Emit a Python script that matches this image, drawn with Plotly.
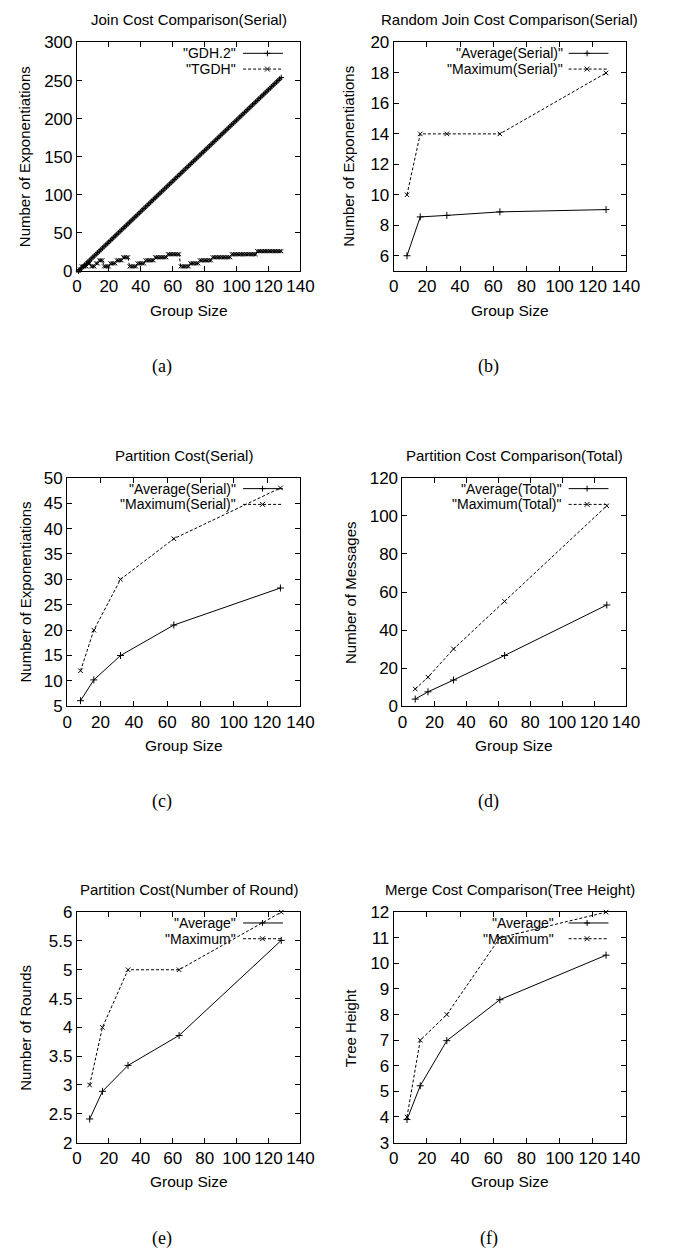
import plotly.graph_objects as go

# ---------------- data ----------------
# (a) Join cost comparison (serial), group sizes 1..128
join_group_size = [
    1, 2, 3, 4, 5, 6, 7, 8, 9, 10, 11, 12, 13, 14, 15, 16, 17, 18, 19, 20,
    21, 22, 23, 24, 25, 26, 27, 28, 29, 30, 31, 32, 33, 34, 35, 36, 37, 38, 39, 40,
    41, 42, 43, 44, 45, 46, 47, 48, 49, 50, 51, 52, 53, 54, 55, 56, 57, 58, 59, 60,
    61, 62, 63, 64, 65, 66, 67, 68, 69, 70, 71, 72, 73, 74, 75, 76, 77, 78, 79, 80,
    81, 82, 83, 84, 85, 86, 87, 88, 89, 90, 91, 92, 93, 94, 95, 96, 97, 98, 99, 100,
    101, 102, 103, 104, 105, 106, 107, 108, 109, 110, 111, 112, 113, 114, 115, 116,
    117, 118, 119, 120, 121, 122, 123, 124, 125, 126, 127, 128]
gdh2_serial = [
    0, 2, 4, 6, 8, 10, 12, 14, 16, 18, 20, 22, 24, 26, 28, 30, 32, 34, 36, 38,
    40, 42, 44, 46, 48, 50, 52, 54, 56, 58, 60, 62, 64, 66, 68, 70, 72, 74, 76, 78,
    80, 82, 84, 86, 88, 90, 92, 94, 96, 98, 100, 102, 104, 106, 108, 110, 112, 114, 116, 118,
    120, 122, 124, 126, 128, 130, 132, 134, 136, 138, 140, 142, 144, 146, 148, 150, 152, 154, 156, 158,
    160, 162, 164, 166, 168, 170, 172, 174, 176, 178, 180, 182, 184, 186, 188, 190, 192, 194, 196, 198,
    200, 202, 204, 206, 208, 210, 212, 214, 216, 218, 220, 222, 224, 226, 228, 230,
    232, 234, 236, 238, 240, 242, 244, 246, 248, 250, 252, 254]
tgdh_serial = [
    0, 2, 6, 6, 6, 6, 10, 10,
    6, 6, 6, 10, 10, 14, 14, 14,
    6, 6, 6, 6, 10, 10, 10, 10, 14, 14, 14, 14, 18, 18, 18, 18,
    6, 6, 6, 6, 6, 10, 10, 10, 10, 10, 14, 14, 14, 14, 14, 14,
    18, 18, 18, 18, 18, 18, 18, 18, 22, 22, 22, 22, 22, 22, 22, 22,
    6, 6, 6, 6, 6, 6, 10, 10, 10, 10, 10, 10, 14, 14, 14, 14, 14, 14, 14, 14,
    18, 18, 18, 18, 18, 18, 18, 18, 18, 18, 18, 18,
    22, 22, 22, 22, 22, 22, 22, 22, 22, 22, 22, 22, 22, 22, 22, 22,
    26, 26, 26, 26, 26, 26, 26, 26, 26, 26, 26, 26, 26, 26, 26, 26]

# (b)-(f) group sizes
group_size = [8, 16, 32, 64, 128]
rand_join_avg = [6.0, 8.55, 8.65, 8.88, 9.03]
rand_join_max = [10, 14, 14, 14, 18]
part_serial_avg = [6.1, 10.2, 15.0, 21.0, 28.3]
part_serial_max = [12, 20, 30, 38, 48]
part_total_avg = [3.8, 7.6, 13.8, 26.7, 53.2]
part_total_max = [9.1, 15.3, 30.1, 55.1, 105.3]
part_round_avg = [2.41, 2.89, 3.34, 3.86, 5.51]
part_round_max = [3, 4, 5, 5, 6]
merge_height_avg = [3.9, 5.22, 6.98, 8.58, 10.32]
merge_height_max = [4, 7, 8, 11, 12]

# ---------------- layout helpers ----------------
W, H = 673, 1257
SANS = "Liberation Sans"
SERIF = "Liberation Serif"


def px(x):
    return x / W


def py(y):
    return 1 - y / H


panels = [
    dict(title="Join Cost Comparison(Serial)", ytitle="Number of Exponentiations",
         x=join_group_size, s=[('"GDH.2"', gdh2_serial), ('"TGDH"', tgdh_serial)],
         yr=[0, 300], t0=0, dt=50, box=(74, 304, 34, 266), ytx=20, cap="(a)", capx=162,
         txt_r=240, mk=270, msz=(4, 4)),
    dict(title="Random Join Cost Comparison(Serial)", ytitle="Number of Exponentiations",
         x=group_size, s=[('"Average(Serial)"', rand_join_avg), ('"Maximum(Serial)"', rand_join_max)],
         yr=[5, 20], t0=6, dt=2, box=(400, 639, 34, 266), ytx=354, cap="(b)", capx=498,
         txt_r=576, mk=599, msz=(5, 4.5)),
    dict(title="Partition Cost(Serial)", ytitle="Number of Exponentiations",
         x=group_size, s=[('"Average(Serial)"', part_serial_avg), ('"Maximum(Serial)"', part_serial_max)],
         yr=[5, 50], t0=5, dt=5, box=(64, 304, 476, 708), ytx=21, cap="(c)", capx=162,
         txt_r=240, mk=265, msz=(5, 4.5)),
    dict(title="Partition Cost Comparison(Total)", ytitle="Number of Messages",
         x=group_size, s=[('"Average(Total)"', part_total_avg), ('"Maximum(Total)"', part_total_max)],
         yr=[0, 120], t0=0, dt=20, box=(409, 639, 476, 708), ytx=355, cap="(d)", capx=498,
         txt_r=575, mk=599, msz=(5, 4.5)),
    dict(title="Partition Cost(Number of Round)", ytitle="Number of Rounds",
         x=group_size, s=[('"Average"', part_round_avg), ('"Maximum"', part_round_max)],
         yr=[2, 6], t0=2, dt=0.5, box=(74, 304, 917, 1151), ytx=21, cap="(e)", capx=162,
         txt_r=240, mk=265, msz=(5, 4.5)),
    dict(title="Merge Cost Comparison(Tree Height)", ytitle="Tree Height",
         x=group_size, s=[('"Average"', merge_height_avg), ('"Maximum"', merge_height_max)],
         yr=[3, 12], t0=3, dt=1, box=(400, 639, 917, 1151), ytx=355, cap="(f)", capx=498,
         txt_r=567, mk=599, msz=(5, 4.5)),
]

styles = [
    dict(dash="solid", symbol="cross-thin"),
    dict(dash="3px,2px", symbol="x-thin"),
]

fig = go.Figure()
layout = dict(
    width=W, height=H, margin=dict(l=0, r=0, t=0, b=0),
    paper_bgcolor="white", plot_bgcolor="white", showlegend=False,
    font=dict(family=SANS, color="black"),
)
annotations = []
shapes = []

axis_common = dict(
    showline=True, linecolor="black", linewidth=1, mirror="ticks",
    ticks="inside", ticklen=5, tickwidth=1, tickcolor="black",
    showgrid=False, zeroline=False,
    tickfont=dict(family=SANS, size=17, color="black"),
)

for i, p in enumerate(panels):
    suf = "" if i == 0 else str(i + 1)
    xa, ya = "x" + suf, "y" + suf
    l, r, t, b = p["box"]
    for (name, vals), st, ms in zip(p["s"], styles, p["msz"]):
        fig.add_trace(go.Scatter(
            x=p["x"], y=vals, xaxis=xa, yaxis=ya, mode="lines+markers", name=name,
            line=dict(color="black", width=1, dash=st["dash"]),
            marker=dict(symbol=st["symbol"], size=ms, color="black",
                        line=dict(color="black", width=1)),
            cliponaxis=False, showlegend=False, hoverinfo="skip",
        ))
    layout["xaxis" + suf] = dict(domain=[px(l), px(r)], anchor=ya, range=[0, 140],
                                 tickmode="linear", tick0=0, dtick=20, **axis_common)
    layout["yaxis" + suf] = dict(domain=[py(b), py(t)], anchor=xa, range=p["yr"],
                                 tickmode="linear", tick0=p["t0"], dtick=p["dt"], **axis_common)
    # title
    annotations.append(dict(text=p["title"], x=px((l + r) / 2), y=py(t - 23), xref="paper", yref="paper",
                            showarrow=False, xanchor="center", yanchor="middle",
                            font=dict(family=SANS, size=15, color="black")))
    # x title
    annotations.append(dict(text="Group Size", x=px((l + r) / 2), y=py(b + 40), xref="paper", yref="paper",
                            showarrow=False, xanchor="center", yanchor="middle",
                            font=dict(family=SANS, size=15.5, color="black")))
    # y title
    annotations.append(dict(text=p["ytitle"], x=px(p["ytx"]), y=py((t + b) / 2), xref="paper", yref="paper",
                            showarrow=False, xanchor="center", yanchor="middle", textangle=-90,
                            font=dict(family=SANS, size=15, color="black")))
    # caption
    annotations.append(dict(text=p["cap"], x=px(p["capx"]), y=py(b + 97), xref="paper", yref="paper",
                            showarrow=False, xanchor="center", yanchor="middle",
                            font=dict(family=SERIF, size=18, color="black")))
    # legend (gnuplot style: right-aligned text, then sample)
    for k, ((name, _), st) in enumerate(zip(p["s"], styles)):
        ry = t + 11 + 16 * k
        annotations.append(dict(text=name, x=px(p["txt_r"]), y=py(ry), xref="paper", yref="paper",
                                showarrow=False, xanchor="right", yanchor="middle",
                                font=dict(family=SANS, size=14, color="black")))
        shapes.append(dict(type="line", xref="paper", yref="paper",
                           x0=px(r - 59), x1=px(r - 18), y0=py(ry), y1=py(ry),
                           line=dict(color="black", width=1, dash=("solid" if k == 0 else "3px,2px"))))
        m = p["mk"]
        if k == 0:
            shapes.append(dict(type="line", xref="paper", yref="paper", x0=px(m - 3), x1=px(m + 3),
                               y0=py(ry), y1=py(ry), line=dict(color="black", width=1)))
            shapes.append(dict(type="line", xref="paper", yref="paper", x0=px(m), x1=px(m),
                               y0=py(ry - 3), y1=py(ry + 3), line=dict(color="black", width=1)))
        else:
            shapes.append(dict(type="line", xref="paper", yref="paper", x0=px(m - 2.5), x1=px(m + 2.5),
                               y0=py(ry - 2.5), y1=py(ry + 2.5), line=dict(color="black", width=1)))
            shapes.append(dict(type="line", xref="paper", yref="paper", x0=px(m - 2.5), x1=px(m + 2.5),
                               y0=py(ry + 2.5), y1=py(ry - 2.5), line=dict(color="black", width=1)))

layout["annotations"] = annotations
layout["shapes"] = shapes
fig.update_layout(**layout)
fig.write_html(
    "out.html",
    config={"displayModeBar": False},
    post_script="document.body.style.margin='0px';document.documentElement.style.overflow='hidden';",
)
